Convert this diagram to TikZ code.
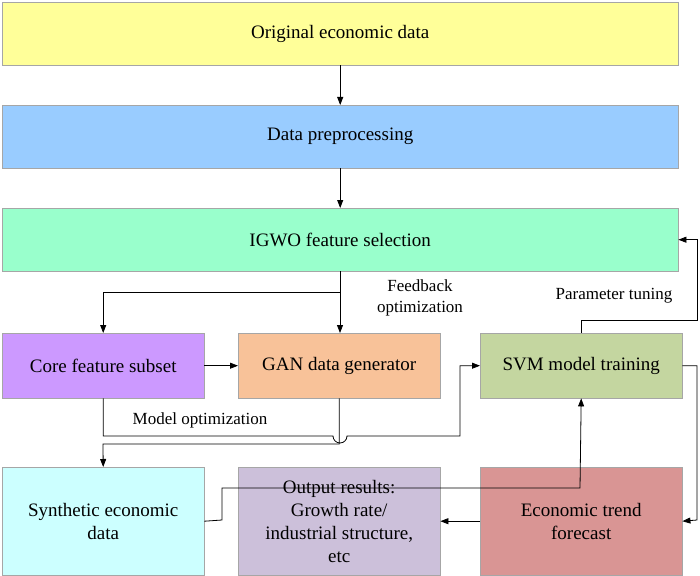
\documentclass[tikz,border=0pt]{standalone}
\usepackage{fontspec}
\setmainfont{Liberation Serif}
\usetikzlibrary{arrows.meta, positioning, calc}

\definecolor{cyellow}{HTML}{FFFF99}
\definecolor{cblue}{HTML}{99CCFF}
\definecolor{cgreen}{HTML}{99FFCC}
\definecolor{cpurple}{HTML}{CC99FF}
\definecolor{corange}{HTML}{F8C299}
\definecolor{csvm}{HTML}{C4D6A0}
\definecolor{ccyan}{HTML}{CCFFFF}
\definecolor{clav}{HTML}{CCC0DA}
\definecolor{cred}{HTML}{D99594}

\begin{document}
\begin{tikzpicture}[
    x=1pt, y=-1pt,
    box/.style={draw=gray!70, align=center, inner sep=2pt, font=\fontsize{19}{23}\selectfont},
    wide/.style={box, minimum width=676pt, minimum height=63pt},
    small/.style={box, minimum width=202pt, minimum height=65pt},
    tall/.style={box, minimum width=202pt, minimum height=108pt},
    lbl/.style={font=\fontsize{17}{21}\selectfont, align=center},
    arr/.style={-{Triangle[length=8pt,width=6pt]}, thick}
]
    \useasboundingbox (0,0) rectangle (700,575);

    % Top chain
    \node[wide, fill=cyellow, anchor=north west] (orig) at (2,2) {Original economic data};
    \node[wide, fill=cblue, anchor=north west] (prep) at (2,105) {Data preprocessing};
    \node[wide, fill=cgreen, anchor=north west] (igwo) at (2,208) {IGWO feature selection};

    \draw[arr] (orig) -- (prep);
    \draw[arr] (prep) -- (igwo);

    % Middle row
    \node[small, fill=cpurple, anchor=north west] (core) at (2,333) {Core feature subset};
    \node[small, fill=corange, anchor=north west] (gan) at (238,333) {GAN data generator};
    \node[small, fill=csvm, anchor=north west] (svm) at (480,333) {SVM model training};

    % Bottom row
    \node[tall, fill=ccyan, anchor=north west] (synth) at (2,467) {Synthetic economic\\data};
    \node[tall, fill=clav, anchor=north west] (out) at (238,467) {Output results:\\Growth rate/\\industrial structure,\\etc};
    \node[tall, fill=cred, anchor=north west] (trend) at (480,467) {Economic trend\\forecast};

    % IGWO to core and GAN
    \coordinate (split) at (340,292);
    \draw[arr] (igwo.south -| split) -- (gan.north -| split);
    \draw[arr] (split) -| (core.north);
    \node[lbl] at (420,298) {Feedback\\optimization};

    \draw[arr] (core) -- (gan);

    % Model optimization (hop over GAN line)
    \draw[arr] (core.south) |- (333,436) arc[start angle=180, end angle=360, radius=7pt]
        -- (460,436) |- (svm.west);
    \node[lbl] at (200,420) {Model optimization};

    \draw[arr] (gan.south) |- (103,444) -- (synth.north);

    % Synthetic data to SVM
    \draw[arr] (synth.east) -- (222,520) |- (580,488) -- (svm.south);

    % Parameter tuning
    \draw[arr] (svm.north) |- (697,320) |- (igwo.east);
    \node[lbl] at (614,296) {Parameter tuning};

    % Forecast
    \draw[arr] (svm.east) -| (697,520) -- (trend.east);
    \draw[arr] (trend) -- (out);
\end{tikzpicture}
\end{document}
